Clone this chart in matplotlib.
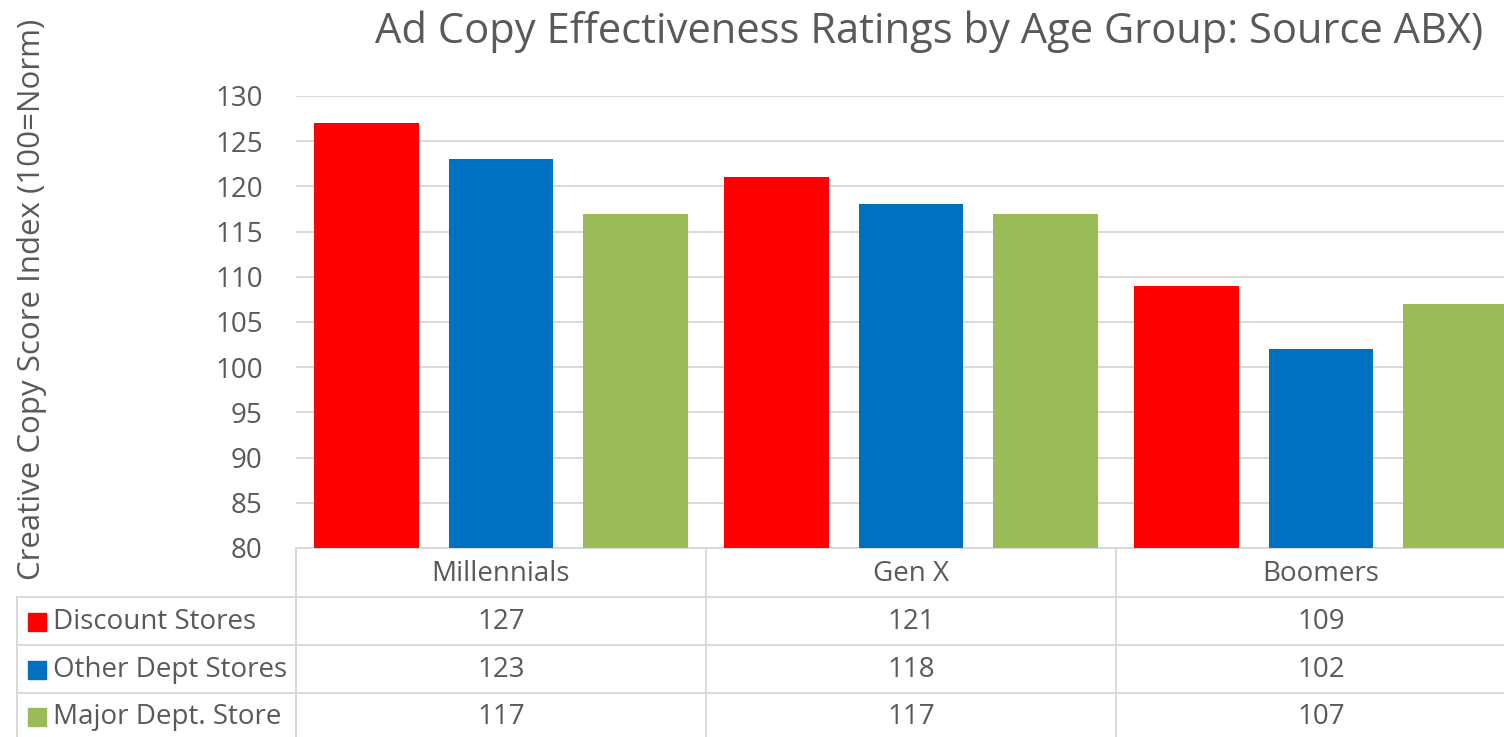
import matplotlib
matplotlib.use("Agg")
import matplotlib.pyplot as plt
import matplotlib.transforms as mtransforms
import numpy as np

# data
groups = ["Millennials", "Gen X", "Boomers"]
series = ["Discount Stores", "Other Dept Stores", "Major Dept. Store"]
discount = [127, 121, 109]
other_dept = [123, 118, 102]
major_dept = [117, 117, 107]
colors = ["#FF0000", "#0070C0", "#9BBB59"]

title = "Ad Copy Effectiveness Ratings by Age Group: Source ABX)"
ylabel = "Creative Copy Score Index (100=Norm)"

W, H = 1504, 737
txt = "#595959"
grid = "#D9D9D9"
plt.rcParams['font.family'] = ['Open Sans', 'DejaVu Sans']

def fx(px):
	return px / W

def fy(py):
	return 1 - py / H

fig = plt.figure(figsize=(W / 100, H / 100), dpi=100)
ax = fig.add_axes([fx(296), fy(548), 1 - fx(296), fy(96) - fy(548)])

x = np.arange(len(groups))
bw = 0.256
step = 0.327
values = [discount, other_dept, major_dept]
for i in range(len(series)):
	ax.bar(x + (i - 1) * step, values[i], width=bw, color=colors[i], zorder=3)

ax.set_ylim(80, 130)
ax.set_yticks(range(80, 131, 5))
ax.set_xlim(-0.5, -0.5 + (W - 296) / 410.0)
ax.set_xticks([])
ax.yaxis.grid(True, color=grid, linewidth=1.4, zorder=0)
for s in ["top", "right", "left"]:
	ax.spines[s].set_visible(False)
ax.spines["bottom"].set_color(grid)
ax.spines["bottom"].set_linewidth(1.4)
ax.tick_params(axis="y", length=0, pad=24, labelsize=20, labelcolor=txt)

fig.text(fx(929), fy(43), title, ha="center", va="baseline", fontsize=30, color=txt)
fig.text(fx(32), fy(299), ylabel, ha="center", va="center", rotation=90, fontsize=22.5, color=txt)

# data table
blend = mtransforms.blended_transform_factory(ax.transData, fig.transFigure)
row_lines = [597, 645, 693]
row_mid = [622, 670, 717]
for b in [-0.5, 0.5, 1.5, 2.5]:
	fig.add_artist(plt.Line2D([b, b], [fy(548), 0], transform=blend, color=grid, lw=1.4))
fig.add_artist(plt.Line2D([fx(17), fx(17)], [fy(597), 0], transform=fig.transFigure, color=grid, lw=1.4))
for r in row_lines:
	fig.add_artist(plt.Line2D([fx(17), 1], [fy(r), fy(r)], transform=fig.transFigure, color=grid, lw=1.4))

for j in range(len(groups)):
	fig.text(x[j], fy(574), groups[j], transform=blend, ha="center", va="center", fontsize=20, color=txt)

for i in range(len(series)):
	fig.add_artist(plt.Rectangle((fx(28), fy(row_mid[i] + 9)), fx(18), 18.0 / H,
		transform=fig.transFigure, color=colors[i]))
	fig.text(fx(53), fy(row_mid[i]), series[i], ha="left", va="center", fontsize=20, color=txt)
	for j in range(len(groups)):
		fig.text(x[j], fy(row_mid[i]), str(values[i][j]), transform=blend,
			ha="center", va="center", fontsize=20, color=txt)

plt.savefig("out.png", dpi=100)
